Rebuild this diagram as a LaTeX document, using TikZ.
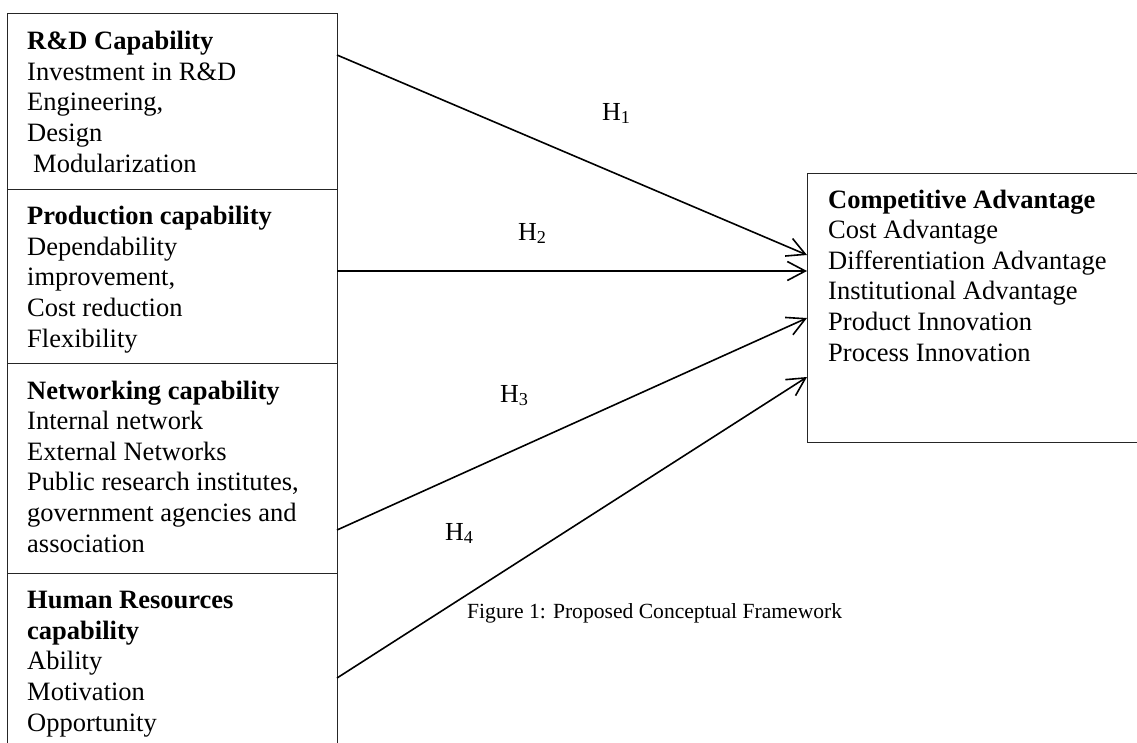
\documentclass[tikz,border=0pt]{standalone}
\usepackage{fontspec}
\setmainfont{Liberation Serif}
\usetikzlibrary{arrows.meta}
\tikzset{
  box/.style={draw=black!85, line width=1.3pt, anchor=north west, inner sep=0pt, minimum width=330pt},
  txt/.style={anchor=base west, inner sep=0pt, align=left, font=\fontsize{26.5}{30.6}\selectfont},
  hlab/.style={anchor=base west, inner sep=0pt, font=\fontsize{26}{30.5}\selectfont},
  captxt/.style={anchor=base west, inner sep=0pt, font=\fontsize{21.6}{26}\selectfont},
  link/.style={line width=1.6pt, -{Straight Barb[length=18pt, width=19pt, line width=1.6pt]}}
}
\begin{document}
\begin{tikzpicture}[x=1pt, y=-1pt]
\useasboundingbox (0,0) rectangle (1137,742);
\clip (0,0) rectangle (1137,742);
% left boxes
\node[box, minimum height=176pt] (rd) at (7,13) {};
\node[box, minimum height=174pt] (pr) at (7,189) {};
\node[box, minimum height=210pt] (nw) at (7,363) {};
\node[box, minimum height=190pt] (hr) at (7,573) {};
% right box
\node[box, minimum width=340pt, minimum height=269pt] (ca) at (807,173) {};
% texts (anchored at the baseline of the last line)
\node[txt] (trd) at (27,172) {\textbf{R\&D Capability}\\Investment in R\&D\\Engineering,\\Design\\\hspace{6pt}Modularization};
\node[txt] (tpr) at (27,347) {\textbf{Production capability}\\Dependability\\improvement,\\Cost reduction\\Flexibility};
\node[txt] (tnw) at (27,552) {\textbf{Networking capability}\\Internal network\\External Networks\\Public research institutes,\\government agencies and\\association};
\node[txt] (thr) at (27,731) {\textbf{Human Resources}\\\textbf{capability}\\Ability\\Motivation\\Opportunity};
\node[txt] (tca) at (828,361) {\textbf{Competitive Advantage}\\Cost Advantage\\Differentiation Advantage\\Institutional Advantage\\Product Innovation\\Process Innovation};
% connector end points
\coordinate (s1) at (337,55);
\coordinate (s2) at (337,271);
\coordinate (s3) at (337,530);
\coordinate (s4) at (337,678);
\coordinate (e1) at (807,255);
\coordinate (e2) at (807,271);
\coordinate (e3) at (807,318);
\coordinate (e4) at (807,377);
\draw[link] (s1) -- (e1);
\draw[link] (s2) -- (e2);
\draw[link] (s3) -- (e3);
\draw[link] (s4) -- (e4);
% labels
\node[hlab] (h1) at (602,120) {H\textsubscript{1}};
\node[hlab] (h2) at (518,240) {H\textsubscript{2}};
\node[hlab] (h3) at (500,402) {H\textsubscript{3}};
\node[hlab] (h4) at (445,540) {H\textsubscript{4}};
\node[captxt] (fig) at (467,618) {Figure 1: Proposed Conceptual Framework};
\end{tikzpicture}
\end{document}
